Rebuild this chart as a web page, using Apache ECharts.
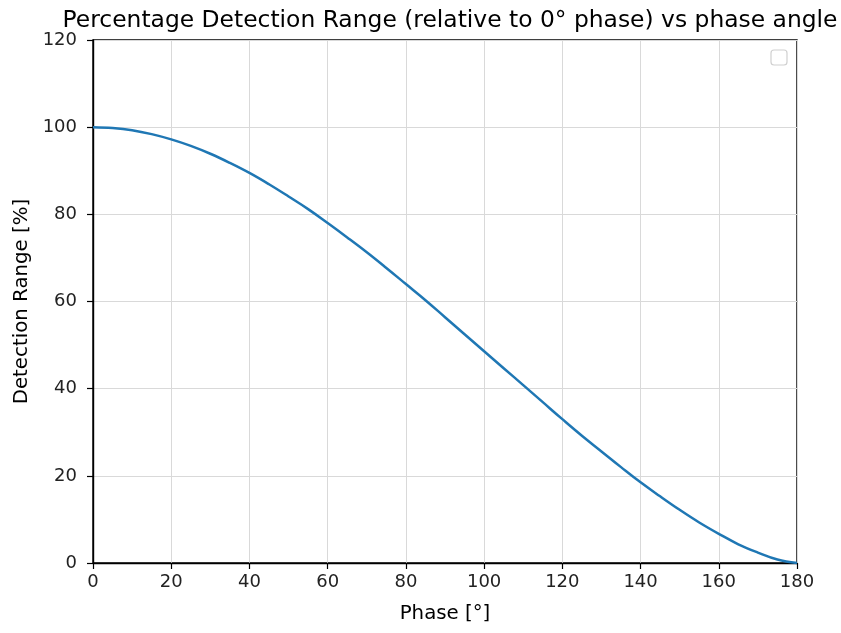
<!DOCTYPE html>
<html>
<head>
<meta charset="utf-8">
<script src="https://cdn.jsdelivr.net/npm/echarts@6/dist/echarts.min.js"></script>
<style>
  html, body { margin: 0; padding: 0; background: #fff; }
  #chart { width: 841px; height: 633px; }
</style>
</head>
<body>
<div id="chart"></div>
<script>
// Phase angle in degrees
const phaseDeg = [0, 5, 10, 15, 20, 25, 30, 35, 40, 45, 50, 55, 60, 65, 70, 75, 80, 85, 90,
  95, 100, 105, 110, 115, 120, 125, 130, 135, 140, 145, 150, 155, 160, 165, 170, 175, 180];
// Detection range relative to 0° phase, in percent
const rangePct = [100, 99.8, 99.3, 98.4, 97.2, 95.7, 93.9, 91.8, 89.5, 86.9, 84.1, 81.2, 78.0,
  74.7, 71.3, 67.7, 64.0, 60.3, 56.4, 52.5, 48.6, 44.7, 40.8, 36.9, 33.0, 29.2, 25.6, 22.0,
  18.5, 15.3, 12.2, 9.3, 6.7, 4.3, 2.4, 0.8, 0];
const xTicks = { min: 0, max: 180, step: 20 };
const yTicks = { min: 0, max: 120, step: 20 };

const font = 'DejaVu Sans';
const chart = echarts.init(document.getElementById('chart'), null, { renderer: 'canvas' });

const axisCommon = {
  type: 'value',
  nameLocation: 'middle',
  nameTextStyle: { fontFamily: font, fontSize: 19.8, color: '#000' },
  axisLine: { onZero: false, lineStyle: { color: '#000', width: 1.4 } },
  axisTick: { show: true, length: 6, lineStyle: { color: '#000', width: 1.2 } },
  splitLine: { show: true, lineStyle: { color: '#d9d9d9', width: 1 } }
};

chart.setOption({
  animation: false,
  backgroundColor: '#fff',
  title: {
    text: 'Percentage Detection Range (relative to 0° phase) vs phase angle',
    left: 445, top: 4, textAlign: 'center',
    textStyle: { fontFamily: font, fontSize: 23.4, fontWeight: 'normal', color: '#000' }
  },
  grid: { left: 93, right: 44, top: 40, bottom: 70, show: true, borderColor: '#000', borderWidth: 1.4 },
  xAxis: Object.assign({}, axisCommon, {
    min: xTicks.min, max: xTicks.max, interval: xTicks.step,
    name: 'Phase [°]', nameGap: 41,
    axisLabel: { fontFamily: font, fontSize: 18, color: '#222', margin: 10 }
  }),
  yAxis: Object.assign({}, axisCommon, {
    min: yTicks.min, max: yTicks.max, interval: yTicks.step,
    name: 'Detection Range [%]', nameGap: 61,
    axisLabel: { fontFamily: font, fontSize: 18, color: '#222', margin: 16 }
  }),
  series: [{
    type: 'line',
    data: phaseDeg.map((p, i) => [p, rangePct[i]]),
    smooth: 0.4,
    showSymbol: false,
    lineStyle: { color: '#1f77b4', width: 2.5 },
    clip: false
  }],
  graphic: [{
    // empty legend frame in the upper-right corner
    type: 'rect',
    shape: { x: 771, y: 50, width: 16, height: 15, r: 3 },
    style: { fill: '#fff', stroke: '#d0d0d0', lineWidth: 1.2 }
  }]
});
</script>
</body>
</html>
